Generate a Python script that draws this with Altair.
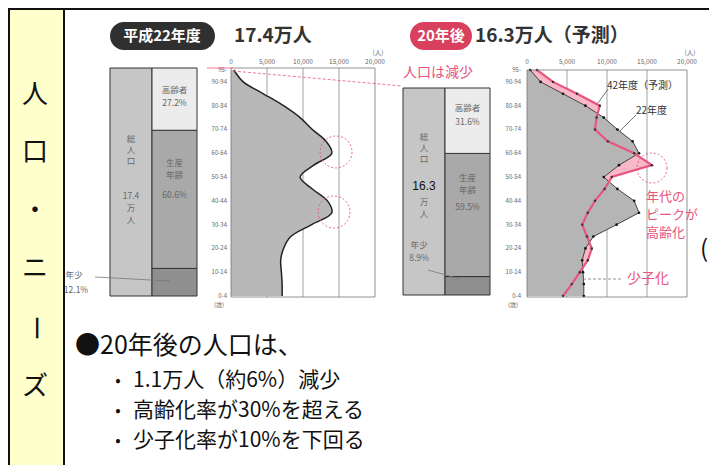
import altair as alt
import pandas as pd

OX, OY = 8, 8
W, H = 701, 457
FONT = "Noto Sans CJK JP"
PINK = "#e8557d"

# ---------------- data ----------------
age_groups = ["0-4", "5-9", "10-14", "15-19", "20-24", "25-29", "30-34", "35-39", "40-44", "45-49",
              "50-54", "55-59", "60-64", "65-69", "70-74", "75-79", "80-84", "85-89", "90-94", "95-"]
age_mid = [2, 7, 12, 17, 22, 27, 32, 37, 42, 47, 52, 57, 62, 67, 72, 77, 82, 87, 92, 97]
pop_h22 = [7100, 7100, 7000, 6900, 7300, 8300, 11200, 14000, 13400, 11300,
           9600, 11500, 14000, 13200, 11300, 9600, 7300, 4500, 1700, 400]
pop_h42 = [4500, 5600, 6600, 7600, 8100, 7500, 6900, 7600, 8500, 9700,
           10600, 15600, 13400, 10100, 8500, 8700, 9100, 6250, 3250, 1250]

tick_values = [0, 5000, 10000, 15000, 20000]
tick_labels = ["0", "5,000", "10,000", "15,000", "20,000"]
axis_ages = [2, 12, 22, 32, 42, 52, 62, 72, 82, 92, 97]
axis_age_labels = ["0-4", "10-14", "20-24", "30-34", "40-44", "50-54", "60-64", "70-74", "80-84", "90-94", "95-"]

comp_cats = ["年少", "生産年齢", "高齢者"]
comp_h22 = [12.1, 60.6, 27.3]
comp_h42 = [8.9, 59.5, 31.6]
comp_colors = ["#8f8f8f", "#a9a9a9", "#ececec"]

side_chars = ["人", "口", "・", "ニ", "ー", "ズ"]
bullets = ["1.1万人（約6%）減少", "高齢化率が30%を超える", "少子化率が10%を下回る"]

one = pd.DataFrame({"k": [0]})


def px(x):
    return x - OX


def py(y):
    return y - OY


def text(s, x, y, size=10, color="#333", weight="normal", align="left", angle=0, font=FONT):
    kw = dict(text=s, align=align, baseline="middle", fontSize=size, color=color,
              fontWeight=weight, font=font)
    if angle:
        kw["angle"] = angle
    return alt.Chart(one).mark_text(**kw).encode(x=alt.value(px(x)), y=alt.value(py(y)))


def seg(x1, y1, x2, y2, color="#555", width=1.0, dash=None):
    kw = dict(color=color, strokeWidth=width)
    if dash:
        kw["strokeDash"] = dash
    return alt.Chart(one).mark_rule(**kw).encode(
        x=alt.value(px(x1)), y=alt.value(py(y1)), x2=alt.value(px(x2)), y2=alt.value(py(y2)))


def box(x1, y1, x2, y2, fill=None, stroke=None, sw=1.0, radius=0):
    kw = {}
    if fill:
        kw["fill"] = fill
    else:
        kw["fillOpacity"] = 0
    if stroke:
        kw["stroke"] = stroke
        kw["strokeWidth"] = sw
    if radius:
        kw["cornerRadius"] = radius
    return alt.Chart(one).mark_rect(**kw).encode(
        x=alt.value(px(x1)), y=alt.value(py(y1)), x2=alt.value(px(x2)), y2=alt.value(py(y2)))


def circle(x, y, r, color=PINK):
    return alt.Chart(one).mark_point(shape="circle", size=(2 * r) ** 2, filled=False, color=color,
                                     strokeWidth=1, strokeDash=[2, 2], opacity=0.9).encode(
        x=alt.value(px(x)), y=alt.value(py(y)))


layers = []

# ---------------- frame ----------------
layers.append(box(9, 9, 64, 490, fill="#ffffcc", stroke="#111", sw=2))
layers.append(box(64, 9, 740, 490, fill="#ffffff", stroke="#111", sw=2))

# ---------------- titles ----------------
layers.append(box(110, 22, 215, 50, fill="#303030", radius=14))
layers.append(text("平成22年度", 162, 36, size=15, color="#ffffff", weight="bold", align="center"))
layers.append(text("17.4万人", 234, 36, size=19, color="#333333", weight="bold"))
layers.append(box(410, 22, 472, 50, fill="#d8405d", radius=14))
layers.append(text("20年後", 441, 36, size=15, color="#ffffff", weight="bold", align="center"))
layers.append(text("16.3万人（予測）", 475, 36, size=19, color="#333333", weight="bold"))


# ---------------- composition bars ----------------
def comp_bars(vals, x0, x1, x2, ytop, ybot):
    ys = alt.Scale(domain=[0, 100], range=[py(ybot), py(ytop)], nice=False, zero=False)
    ends = pd.Series(vals).cumsum()
    df = pd.DataFrame({"cat": comp_cats, "v": vals, "end": ends, "start": ends - pd.Series(vals)})
    tot = pd.DataFrame({"start": [0.0], "end": [float(sum(vals))]})
    total = alt.Chart(tot).mark_rect(color="#c6c6c6", stroke="#333", strokeWidth=1).encode(
        x=alt.value(px(x0)), x2=alt.value(px(x1)),
        y=alt.Y("start:Q", scale=ys, axis=None), y2="end:Q")
    stacked = alt.Chart(df).mark_rect(stroke="#333", strokeWidth=1).encode(
        x=alt.value(px(x1)), x2=alt.value(px(x2)),
        y=alt.Y("start:Q", scale=ys, axis=None), y2="end:Q",
        color=alt.Color("cat:N", scale=alt.Scale(domain=comp_cats, range=comp_colors), legend=None))
    return [total, stacked]


layers += comp_bars(comp_h22, 110, 152, 197, 68, 296)
layers += comp_bars(comp_h42, 403, 445, 490, 88, 295)

BT = "#666666"
for s, y in zip(["総", "人", "口", "17.4", "万", "人"], [139, 150, 161, 196, 208, 220]):
    layers.append(text(s, 131, y, size=8.5, color=BT, align="center"))
for s, y in zip(["高齢者", "27.2%", "生産", "年齢", "60.6%"], [90, 103, 163, 175, 195]):
    layers.append(text(s, 174.5, y, size=8.5, color=BT, align="center"))
layers.append(text("年少", 74, 275, size=8.5, color=BT, align="center"))
layers.append(text("12.1%", 76, 290, size=8.5, color=BT, align="center"))
layers.append(seg(95, 277, 170, 281, color="#777", width=0.8))

for s, y in zip(["総", "人", "口", "万", "人"], [137, 148, 159, 202, 214]):
    layers.append(text(s, 424, y, size=8.5, color=BT, align="center"))
layers.append(text("16.3", 424, 186, size=12, color="#111111", align="center", font="Liberation Sans"))
layers.append(text("年少", 419, 245, size=8.5, color=BT, align="center"))
layers.append(text("8.9%", 419, 258, size=8.5, color=BT, align="center"))
layers.append(seg(428, 270, 460, 279, color="#777", width=0.8))
for s, y in zip(["高齢者", "31.6%", "生産", "年齢", "59.5%"], [108, 122, 178, 190, 207]):
    layers.append(text(s, 467.5, y, size=8.5, color=BT, align="center"))

# ---------------- pyramids ----------------
pyr = pd.DataFrame({"age": age_mid, "grp": age_groups, "h22": pop_h22, "h42": pop_h42,
                    "base": [0] * len(age_mid)})
ticks = pd.DataFrame({"t": tick_values, "lab": tick_labels})
inner = ticks.iloc[1:4]
agelab = pd.DataFrame({"a": axis_ages, "lab": axis_age_labels})
yA = alt.Scale(domain=[2, 97], range=[py(296), py(70)], nice=False, zero=False)


def pyramid_grid(xs, ytop, ybot):
    return alt.Chart(inner).mark_rule(color="#8a8a8a", strokeWidth=0.8).encode(
        x=alt.X("t:Q", scale=xs, axis=None), y=alt.value(py(ytop)), y2=alt.value(py(ybot)))


def pyramid_labels(xs, x0, x1, ytop, ybot, labx):
    out = []
    out.append(box(x0, ytop, x1, ybot, stroke="#777", sw=0.8))
    out.append(alt.Chart(ticks).mark_text(fontSize=6.5, color="#666", baseline="middle", font=FONT).encode(
        x=alt.X("t:Q", scale=xs, axis=None), y=alt.value(py(62)), text="lab:N"))
    out.append(alt.Chart(agelab).mark_text(fontSize=6, color="#666", align="right", baseline="middle",
                                           font=FONT).encode(
        y=alt.Y("a:Q", scale=yA, axis=None), x=alt.value(px(labx)), text="lab:N"))
    out.append(text("(人)", x1 + 3, 53, size=6.5, color="#666", align="center"))
    out.append(text("(歳)", labx - 8, 305, size=6, color="#666", align="center"))
    return out


def harea(field, xs, color, interp):
    return alt.Chart(pyr).mark_area(orient="horizontal", interpolate=interp, color=color).encode(
        x=alt.X(f"{field}:Q", scale=xs, axis=None), x2="base:Q",
        y=alt.Y("age:Q", scale=yA, axis=None))


# left pyramid (平成22年度)
xL = alt.Scale(domain=[0, 20000], range=[px(231), px(375)], nice=False, zero=False)
layers.append(pyramid_grid(xL, 68, 297))
layers.append(harea("h22", xL, "#b8b8b8", "catmull-rom"))
layers.append(alt.Chart(pyr).mark_line(interpolate="catmull-rom", color="#222", strokeWidth=1.5).encode(
    x=alt.X("h22:Q", scale=xL, axis=None),
    y=alt.Y("age:Q", scale=yA, axis=None), order=alt.Order("age:Q")))
layers += pyramid_labels(xL, 231, 375, 68, 297, 227)

# right pyramid (20年後)
xR = alt.Scale(domain=[0, 20000], range=[px(527), px(687)], nice=False, zero=False)
layers.append(pyramid_grid(xR, 70, 297))
layers.append(harea("h42", xR, "#f8b8c8", "linear"))
layers.append(harea("h22", xR, "#b5b5b5", "linear"))
layers.append(alt.Chart(pyr).mark_line(color="#444", strokeWidth=1,
                                       point=alt.OverlayMarkDef(filled=True, size=7, color="#111")).encode(
    x=alt.X("h22:Q", scale=xR, axis=None),
    y=alt.Y("age:Q", scale=yA, axis=None), order=alt.Order("age:Q")))
layers.append(alt.Chart(pyr).mark_line(color=PINK, strokeWidth=2.2,
                                       point=alt.OverlayMarkDef(filled=True, size=6, color="#333")).encode(
    x=alt.X("h42:Q", scale=xR, axis=None),
    y=alt.Y("age:Q", scale=yA, axis=None), order=alt.Order("age:Q")))
layers += pyramid_labels(xR, 527, 687, 70, 297, 521)

# ---------------- annotations ----------------
layers.append(circle(336, 152, 16))
layers.append(circle(334, 212, 16))
layers.append(circle(652, 168, 15))
layers.append(seg(207, 68, 233, 68, color=PINK, width=0.8))
layers.append(seg(233, 71, 402, 86, color=PINK, width=0.8, dash=[3, 2]))
layers.append(text("人口は減少", 403, 73, size=14, color=PINK))
layers.append(text("42年度（予測）", 607, 86, size=10, color="#333"))
layers.append(seg(608, 89, 598, 103, color="#555", width=0.8))
layers.append(text("22年度", 636, 111, size=10, color="#333"))
layers.append(seg(636, 115, 620, 131, color="#555", width=0.8))
for s, y in zip(["年代の", "ピークが", "高齢化"], [197, 215, 233]):
    layers.append(text(s, 646, y, size=13, color=PINK))
layers.append(text("少子化", 627, 279, size=14, color=PINK))
layers.append(seg(583, 279, 623, 279, color="#777", width=0.8, dash=[3, 2]))
layers.append(text("(", 700, 250, size=24, color="#111"))

# ---------------- bullet text ----------------
layers.append(text("●20年後の人口は、", 75, 346, size=25, color="#111"))
for s, y in zip(bullets, [381, 411, 441]):
    layers.append(text("•", 118, y, size=16, color="#111", align="center"))
    layers.append(text(s, 133, y, size=21, color="#111"))

# ---------------- side column ----------------
for s, y in zip(side_chars, [95, 153, 211, 269, 328, 387]):
    layers.append(text(s, 35, y, size=26, color="#111", align="center", angle=90 if s == "ー" else 0))

chart = alt.layer(*layers).resolve_scale(x="independent", y="independent", color="independent").properties(
    width=W, height=H, padding=0, autosize=alt.AutoSizeParams(type="none"),
).configure(background="#ecebe4").configure_view(stroke=None)

chart.save("out.html", embed_options={"renderer": "svg", "actions": False})
